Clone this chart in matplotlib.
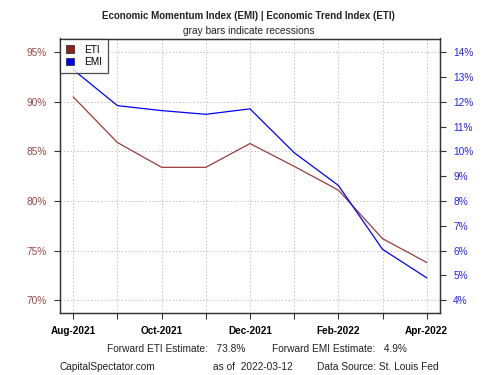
import matplotlib
matplotlib.use("Agg")
import matplotlib.pyplot as plt
from matplotlib.patches import Patch

plt.rcParams['font.family'] = ['Liberation Sans', 'DejaVu Sans']

# monthly readings, Aug-2021 .. Apr-2022
months = ["Aug-2021", "Sep-2021", "Oct-2021", "Nov-2021", "Dec-2021",
          "Jan-2022", "Feb-2022", "Mar-2022", "Apr-2022"]
eti = [90.5, 85.9, 83.4, 83.4, 85.8, 83.5, 81.1, 76.2, 73.8]   # left axis, %
emi = [13.3, 11.85, 11.65, 11.5, 11.72, 9.95, 8.63, 6.05, 4.9]  # right axis, %

eti_ticks = [70, 75, 80, 85, 90, 95]
emi_ticks = list(range(4, 15))

ETI_COL = "#9B3B3B"
EMI_COL = "#0000FF"
LEFT_LAB = "#A04848"
RIGHT_LAB = "#2222FF"

fig = plt.figure(figsize=(5, 3.75), dpi=100)
ax = fig.add_axes([60 / 500, 62 / 375, 380 / 500, 274.5 / 375])
ax2 = ax.twinx()

x = list(range(len(months)))
ax.plot(x, eti, color=ETI_COL, lw=0.9, zorder=3)
ax2.plot(x, emi, color=EMI_COL, lw=0.9, zorder=3)

# left 70..95 lines up with right 4..14  (1% right = 2.5% left)
ylo, yhi = 68.7, 96.4
ax.set_ylim(ylo, yhi)
ax2.set_ylim(4 + (ylo - 70) / 2.5, 4 + (yhi - 70) / 2.5)
ax.set_xlim(-0.3, len(months) - 1 + 0.3)

ax.set_yticks(eti_ticks)
ax.set_yticklabels([f"{v}%" for v in eti_ticks], color=LEFT_LAB, fontsize=7.3)
ax2.set_yticks(emi_ticks)
ax2.set_yticklabels([f"{v}%" for v in emi_ticks], color=RIGHT_LAB, fontsize=7.3)

ax.set_xticks(x)
ax.set_xticklabels([m if i % 2 == 0 else "" for i, m in enumerate(months)],
                   fontsize=7.2, fontweight="bold")

for a in (ax, ax2):
    a.tick_params(length=4.5, width=0.8, color="#333333", pad=5)
    for s in a.spines.values():
        s.set_color("#333333")
        s.set_linewidth(0.9)

ax.grid(True, color="#C4C4C4", linestyle=(0, (1.5, 2)), linewidth=0.7)
ax.set_axisbelow(True)

handles = [Patch(facecolor="#8B2323", edgecolor="#333333", lw=0.6, label="ETI"),
           Patch(facecolor=EMI_COL, edgecolor="#333333", lw=0.6, label="EMI")]
leg = ax2.legend(handles=handles, loc="upper left", bbox_to_anchor=(0, 1),
                 fontsize=7.3, frameon=True, fancybox=False, borderaxespad=0,
                 handlelength=0.8, handleheight=0.8, handletextpad=1.0,
                 labelspacing=0.25, borderpad=0.6)
leg.get_frame().set_edgecolor("#222222")
leg.get_frame().set_linewidth(0.9)
leg.set_zorder(5)

fig.text(248 / 500, 1 - 16 / 375, "Economic Momentum Index (EMI) | Economic Trend Index (ETI)",
         ha="center", va="center", fontsize=7.0, fontweight="bold", color="#222222")
fig.text(249 / 500, 1 - 31 / 375, "gray bars indicate recessions",
         ha="center", va="center", fontsize=7.3, color="#222222")

fig.text(107 / 500, 1 - 349 / 375, "Forward ETI Estimate:   %.1f%%" % eti[-1],
         ha="left", va="center", fontsize=7.3, color="#222222")
fig.text(272 / 500, 1 - 349 / 375, "Forward EMI Estimate:   %.1f%%" % emi[-1],
         ha="left", va="center", fontsize=7.3, color="#222222")
fig.text(60 / 500, 1 - 367 / 375, "CapitalSpectator.com",
         ha="left", va="center", fontsize=7.3, color="#222222")
fig.text(213 / 500, 1 - 367 / 375, "as of  2022-03-12",
         ha="left", va="center", fontsize=7.3, color="#222222")
fig.text(317 / 500, 1 - 367 / 375, "Data Source: St. Louis Fed",
         ha="left", va="center", fontsize=7.3, color="#222222")

fig.savefig("out.png", dpi=100)
